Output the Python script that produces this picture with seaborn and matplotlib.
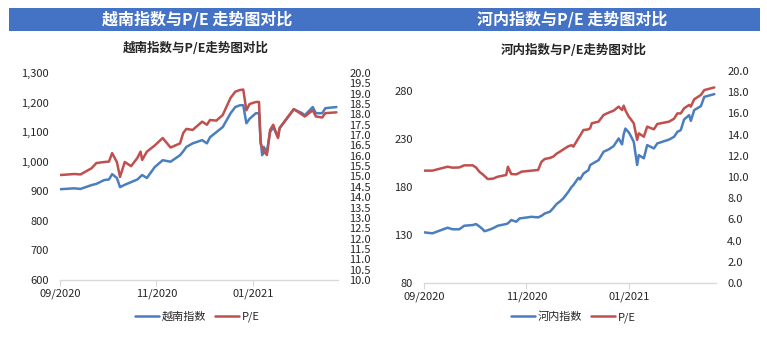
import matplotlib
matplotlib.use("Agg")
import matplotlib.pyplot as plt
import matplotlib.dates as mdates
from matplotlib.patches import Rectangle
from matplotlib.lines import Line2D
from matplotlib.ticker import FuncFormatter, FixedLocator
import seaborn as sns
import pandas as pd

# ---------------- data ----------------
vn_dates = ["2020-09-01","2020-09-10","2020-09-14","2020-09-21","2020-09-24","2020-09-29","2020-10-02","2020-10-04",
            "2020-10-07","2020-10-09","2020-10-12","2020-10-16","2020-10-20","2020-10-22","2020-10-23","2020-10-26",
            "2020-10-31","2020-11-05","2020-11-10","2020-11-16","2020-11-18","2020-11-20","2020-11-24","2020-11-30",
            "2020-12-03","2020-12-05","2020-12-09","2020-12-13","2020-12-18","2020-12-21","2020-12-24","2020-12-26",
            "2020-12-28","2020-12-30","2021-01-03","2021-01-05","2021-01-06","2021-01-07","2021-01-08","2021-01-10",
            "2021-01-12","2021-01-14","2021-01-17","2021-01-18","2021-01-27","2021-02-01","2021-02-03","2021-02-08",
            "2021-02-10","2021-02-14","2021-02-16","2021-02-23"]
vn_index = [907, 910, 908, 921, 925, 938, 940, 958, 945, 914, 922, 931, 940, 950, 955, 945, 982, 1005, 1000, 1022,
            1035, 1050, 1062, 1073, 1062, 1083, 1100, 1117, 1164, 1185, 1191, 1191, 1130, 1145, 1164, 1164, 1073, 1022,
            1050, 1032, 1100, 1117, 1083, 1113, 1177, 1165, 1157, 1185, 1164, 1164, 1181, 1185]
vn_pe = [15.07, 15.12, 15.1, 15.4, 15.65, 15.7, 15.72, 16.13, 15.7, 14.98, 15.7, 15.5, 15.9, 16.2, 15.8, 16.2, 16.5,
         16.86, 16.4, 16.6, 17.1, 17.3, 17.25, 17.65, 17.5, 17.73, 17.7, 17.97, 18.8, 19.1, 19.18, 19.2, 18.2, 18.5,
         18.6, 18.6, 16.6, 16.38, 16.2, 16.04, 17.25, 17.5, 16.86, 17.34, 18.26, 18.0, 17.9, 18.2, 17.9, 17.85, 18.06, 18.1]

hn_dates = ["2020-09-01","2020-09-06","2020-09-15","2020-09-18","2020-09-22","2020-09-25","2020-09-30","2020-10-02",
            "2020-10-04","2020-10-06","2020-10-07","2020-10-09","2020-10-12","2020-10-15","2020-10-20","2020-10-21",
            "2020-10-23","2020-10-26","2020-10-28","2020-10-29","2020-11-04","2020-11-08","2020-11-10","2020-11-12",
            "2020-11-15","2020-11-17","2020-11-19","2020-11-21","2020-11-23","2020-11-26","2020-11-28","2020-11-29",
            "2020-12-02","2020-12-03","2020-12-05","2020-12-08","2020-12-09","2020-12-10","2020-12-14","2020-12-17",
            "2020-12-20","2020-12-23","2020-12-26","2020-12-28","2020-12-29","2020-12-30","2021-01-01","2021-01-02",
            "2021-01-04","2021-01-06","2021-01-07","2021-01-10","2021-01-12","2021-01-16","2021-01-18","2021-01-25",
            "2021-01-28","2021-01-30","2021-02-01","2021-02-03","2021-02-06","2021-02-07","2021-02-09","2021-02-13",
            "2021-02-15","2021-02-21"]
hn_index = [132.8, 131.8, 137.6, 136, 136, 139.7, 140.4, 141.4, 139, 136, 134, 135, 137, 139.7, 141.5, 142.2, 145.6,
            143.9, 147.4, 147.5, 149, 148.4, 150, 152.5, 154.3, 158, 162.3, 165, 168.2, 175, 180.3, 182, 189.7, 188,
            194, 197.7, 202.9, 204, 208, 216.8, 219.2, 222.7, 230.7, 224.5, 235, 241, 237, 234, 227.2, 203, 213.3, 210,
            223.75, 220.3, 225.5, 229.5, 232.4, 237.6, 239.4, 250.5, 255, 249, 260.2, 264.4, 274, 276.9]
hn_pe = [10.6, 10.6, 10.97, 10.88, 10.9, 11.1, 11.1, 10.9, 10.5, 10.25, 10.1, 9.81, 9.84, 10.03, 10.19, 10.97, 10.28,
         10.25, 10.4, 10.5, 10.6, 10.66, 11.44, 11.7, 11.8, 11.92, 12.2, 12.39, 12.6, 12.9, 13.0, 12.86, 13.65, 13.9,
         14.43, 14.5, 14.6, 15.07, 15.22, 15.85, 16.07, 16.26, 16.64, 16.32, 16.73, 16.3, 15.69, 15.5, 15.07, 13.5,
         14.12, 13.8, 14.75, 14.5, 15.0, 15.22, 15.5, 16.0, 16.0, 16.48, 16.8, 16.64, 17.33, 17.74, 18.2, 18.45]

header_titles = ["越南指数与P/E 走势图对比", "河内指数与P/E 走势图对比"]
chart_titles = ["越南指数与P/E走势图对比", "河内指数与P/E走势图对比"]
index_names = ["越南指数", "河内指数"]
pe_name = "P/E"
x_tick_dates = ["2020-09-01", "2020-11-01", "2021-01-01"]

# ---------------- style ----------------
sns.set_theme(style="white")
plt.rcParams['font.family'] = ['Noto Sans CJK SC', 'DejaVu Sans']

BLUE = "#4A7EBF"
RED = "#C0504D"
HEADER = "#4472C4"
TXT = "#262626"

W, H = 767, 339
fig = plt.figure(figsize=(W / 100, H / 100), dpi=100)


def fx(px):
    return px / W


def fy(py):
    return 1 - py / H


# header bar
fig.patches.append(Rectangle((fx(9), fy(31)), fx(760) - fx(9), fy(8) - fy(31),
                             transform=fig.transFigure, facecolor=HEADER, edgecolor="none", zorder=0))
fig.text(fx(197), fy(19.5), header_titles[0], color="white", fontsize=11.5, fontweight="bold",
         ha="center", va="center")
fig.text(fx(572), fy(19.5), header_titles[1], color="white", fontsize=11.5, fontweight="bold",
         ha="center", va="center")


def make_panel(rect, dates, idx, pe, ylim_l, yticks_l, lfmt, ylim_r, yticks_r, xend,
               title, title_xy, idx_name, legend_x):
    ax = fig.add_axes(rect)
    d = pd.to_datetime(dates)
    sns.lineplot(x=d, y=idx, ax=ax, color=BLUE, linewidth=1.8, estimator=None)
    ax2 = ax.twinx()
    sns.lineplot(x=d, y=pe, ax=ax2, color=RED, linewidth=1.8, estimator=None)

    ax.set_xlim(pd.Timestamp("2020-09-01"), pd.Timestamp(xend))
    ax.set_ylim(*ylim_l)
    ax2.set_ylim(*ylim_r)
    ax.yaxis.set_major_locator(FixedLocator(yticks_l))
    ax.yaxis.set_major_formatter(FuncFormatter(lfmt))
    ax2.yaxis.set_major_locator(FixedLocator(yticks_r))
    ax2.yaxis.set_major_formatter(FuncFormatter(lambda v, p: f"{v:.1f}"))
    ax.xaxis.set_major_locator(FixedLocator(mdates.date2num(pd.to_datetime(x_tick_dates))))
    ax.xaxis.set_major_formatter(mdates.DateFormatter("%m/%Y"))

    for a in (ax, ax2):
        for s in a.spines.values():
            s.set_visible(False)
        a.set_xlabel("")
        a.set_ylabel("")
        a.grid(False)
        a.patch.set_alpha(0)
    ax.spines["bottom"].set_visible(True)
    ax.spines["bottom"].set_color("#D9D9D9")
    ax.spines["bottom"].set_linewidth(1.0)

    ax.tick_params(axis="y", length=0, pad=8, labelsize=8, labelcolor=TXT)
    ax2.tick_params(axis="y", length=0, pad=8, labelsize=8, labelcolor=TXT)
    ax.tick_params(axis="x", length=4, width=0.8, color="#D9D9D9", pad=2, labelsize=8, labelcolor=TXT,
                   bottom=True)

    fig.text(title_xy[0], title_xy[1], title, fontsize=9, fontweight="bold", color=TXT,
             ha="center", va="center")

    handles = [Line2D([], [], color=BLUE, linewidth=1.8), Line2D([], [], color=RED, linewidth=1.8)]
    fig.legend(handles, [idx_name, pe_name], loc="center", bbox_to_anchor=(legend_x, fy(317)),
               ncol=2, frameon=False, fontsize=8, handlelength=2.2, handletextpad=0.2,
               columnspacing=0.8, labelcolor=TXT)
    return ax, ax2


make_panel([fx(60), fy(280), fx(338) - fx(60), fy(73) - fy(280)],
           vn_dates, vn_index, vn_pe, (600, 1300), list(range(600, 1301, 100)),
           lambda v, p: f"{int(v):,}", (10, 20), [10 + 0.5 * i for i in range(21)], "2021-02-24",
           chart_titles[0], (fx(196), fy(48)), index_names[0], fx(197))

make_panel([fx(424), fy(283), fx(716) - fx(424), fy(71) - fy(283)],
           hn_dates, hn_index, hn_pe, (80, 301), [80, 130, 180, 230, 280],
           lambda v, p: f"{int(v)}", (0, 20), [2 * i for i in range(11)], "2021-02-22",
           chart_titles[1], (fx(574), fy(50)), index_names[1], fx(573))

fig.savefig("out.png", dpi=100, facecolor="white")
